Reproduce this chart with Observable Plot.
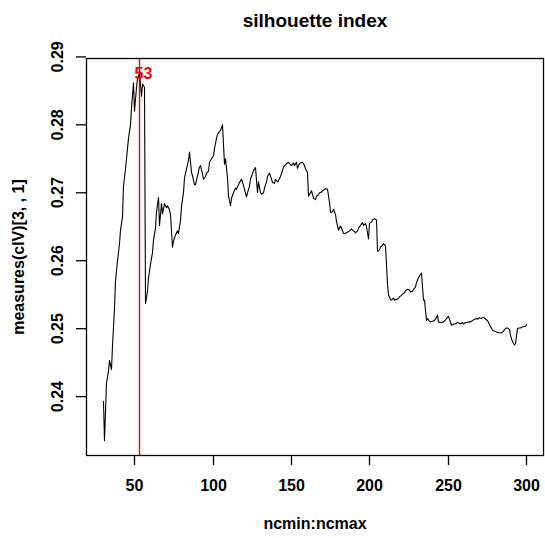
<!DOCTYPE html>
<html><head><meta charset="utf-8">
<script src="https://cdn.jsdelivr.net/npm/d3@7"></script>
<script src="https://cdn.jsdelivr.net/npm/@observablehq/plot@0.6"></script>
<style>body{margin:0;background:#fff;}</style>
</head><body><div id="chart"></div>
<script>
const ncmin = 30, ncmax = 300;
const silhouette = [
0.2393,0.2335,0.2420,0.2438,0.2453,0.2440,0.2475,0.2530,0.2570,0.2600,
0.2625,0.2645,0.2665,0.2710,0.2735,0.2750,0.2780,0.2800,0.2825,0.2862,
0.2820,0.2855,0.2868,0.2876,0.2842,0.2860,0.2855,0.2537,0.2555,0.2575,
0.2595,0.2612,0.2630,0.2648,0.2672,0.2693,0.2652,0.2684,0.2669,0.2684,
0.2678,0.2681,0.2675,0.2668,0.2620,0.2629,0.2638,0.2644,0.2640,0.2660,
0.2680,0.2700,0.2722,0.2735,0.2748,0.2760,0.2730,0.2725,0.2712,0.2712,
0.2725,0.2738,0.2740,0.2728,0.2720,0.2724,0.2729,0.2732,0.2745,0.2750,
0.2755,0.2765,0.2780,0.2786,0.2790,0.2792,0.2800,0.2742,0.2750,0.2722,
0.2695,0.2681,0.2692,0.2700,0.2707,0.2705,0.2712,0.2715,0.2720,0.2716,
0.2705,0.2694,0.2700,0.2710,0.2720,0.2728,0.2733,0.2737,0.2700,0.2716,
0.2700,0.2698,0.2700,0.2707,0.2716,0.2724,0.2729,0.2720,0.2715,0.2714,
0.2720,0.2716,0.2718,0.2724,0.2733,0.2738,0.2741,0.2743,0.2745,0.2743,
0.2740,0.2744,0.2740,0.2745,0.2736,0.2743,0.2744,0.2745,0.2740,0.2735,
0.2730,0.2695,0.2700,0.2703,0.2692,0.2690,0.2695,0.2697,0.2700,0.2701,
0.2703,0.2705,0.2706,0.2705,0.2686,0.2671,0.2672,0.2676,0.2668,0.2658,
0.2645,0.2651,0.2648,0.2640,0.2640,0.2641,0.2642,0.2644,0.2647,0.2645,
0.2643,0.2641,0.2644,0.2648,0.2652,0.2656,0.2652,0.2655,0.2650,0.2632,
0.2655,0.2657,0.2660,0.2662,0.2660,0.2614,0.2616,0.2620,0.2623,0.2625,
0.2622,0.2566,0.2550,0.2543,0.2542,0.2545,0.2542,0.2543,0.2545,0.2547,
0.2549,0.2551,0.2553,0.2556,0.2558,0.2557,0.2554,0.2555,0.2558,0.2561,
0.2568,0.2575,0.2580,0.2582,0.2542,0.2542,0.2512,0.2515,0.2511,0.2510,
0.2511,0.2512,0.2514,0.2520,0.2510,0.2509,0.2509,0.2510,0.2513,0.2515,
0.2518,0.2514,0.2505,0.2506,0.2507,0.2508,0.2509,0.2508,0.2507,0.2509,
0.2507,0.2509,0.2509,0.2510,0.2510,0.2511,0.2513,0.2514,0.2515,0.2514,
0.2516,0.2515,0.2516,0.2516,0.2514,0.2512,0.2509,0.2503,0.2498,0.2497,
0.2496,0.2495,0.2494,0.2494,0.2494,0.2496,0.2499,0.2501,0.2501,0.2499,
0.2490,0.2481,0.2476,0.2478,0.2500,0.2501,0.2501,0.2502,0.2503,0.2504,
0.2506
];
const xTicks = [50, 100, 150, 200, 250, 300];
const yTicks = [0.24, 0.25, 0.26, 0.27, 0.28, 0.29];
const title = "silhouette index";
const xLabel = "ncmin:ncmax";
const yLabel = "measures(clV)[3, , 1]";

const data = silhouette.map((v, i) => ({k: ncmin + i, v}));
const best = data[d3.maxIndex(data, d => d.v)];
function ext(lo, hi) { const r = (hi - lo) * 0.04; return [lo - r, hi + r]; }
const font = "'Liberation Sans', Arial, Helvetica, sans-serif";

const chart = Plot.plot({
  width: 545, height: 538,
  marginLeft: 86, marginRight: 2, marginTop: 58, marginBottom: 83,
  style: {fontFamily: font, fontSize: "16px"},
  x: {domain: ext(ncmin, ncmax), round: true},
  y: {domain: ext(d3.min(silhouette), d3.max(silhouette))},
  marks: [
    Plot.axisX({ticks: xTicks, tickSize: 10, tickPadding: 14, strokeWidth: 1.3, fontWeight: "bold", label: null}),
    Plot.axisY({ticks: yTicks, tickSize: 10, tickPadding: 19, strokeWidth: 1.3, tickRotate: -90, textAnchor: "middle", lineAnchor: "middle",
                tickFormat: d3.format(".2f"), fontWeight: "bold", label: null}),
    Plot.ruleX([best.k], {stroke: "#ff0000", strokeWidth: 1.4}),
    Plot.line(data, {x: "k", y: "v", stroke: "#000", strokeWidth: 1.1}),
    Plot.frame({stroke: "#000", strokeWidth: 1.3}),
    Plot.text([best], {x: "k", y: "v", text: d => String(d.k), fill: "#ff0000", fontWeight: "bold", fontSize: 16, dx: 4, dy: 1}),
    Plot.text([title], {text: d => d, frameAnchor: "top", lineAnchor: "middle", textAnchor: "middle", dy: -38, fontWeight: "bold", fontSize: 19}),
    Plot.text([xLabel], {text: d => d, frameAnchor: "bottom", lineAnchor: "middle", textAnchor: "middle", dy: 68, fontWeight: "bold", fontSize: 16}),
    Plot.text([yLabel], {text: d => d, frameAnchor: "left", lineAnchor: "middle", textAnchor: "middle", dx: -68, rotate: -90, fontWeight: "bold", fontSize: 16})
  ]
});
document.getElementById("chart").appendChild(chart);
</script>
</body></html>
